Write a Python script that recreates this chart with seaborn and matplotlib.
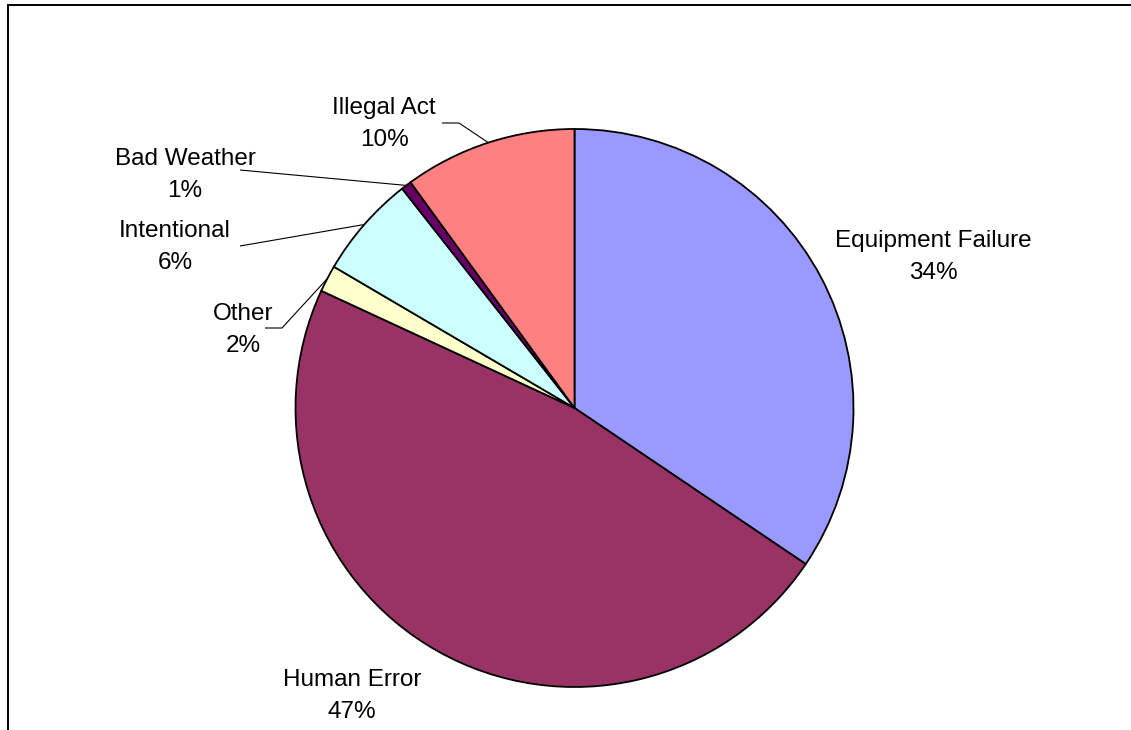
import numpy as np
import matplotlib
matplotlib.use("Agg")
import matplotlib.pyplot as plt
import seaborn as sns

# Causes of incidents (share of total, %)
categories = ["Equipment Failure", "Human Error", "Other", "Intentional", "Bad Weather", "Illegal Act"]
values = [34.45, 47.45, 1.55, 5.95, 0.6, 10.0]
colors = ["#9999FF", "#993366", "#FFFFCC", "#CCFFFF", "#660066", "#FF8080"]

sns.set_theme(style="white")
plt.rcParams["font.family"] = ["Liberation Sans", "DejaVu Sans"]

W, H = 1131, 730
fig = plt.figure(figsize=(W / 100, H / 100), dpi=100)
ax = fig.add_axes([0, 0, 1, 1])

# pie geometry in pixel space (y measured from the bottom)
cx, cy, r = 574.5, H - 408.0, 279.0

wedges, _ = ax.pie(values, colors=colors, startangle=90, counterclock=False,
                   center=(cx, cy), radius=r, frame=True,
                   wedgeprops=dict(edgecolor="black", linewidth=1.3))
ax.set_xlim(0, W)
ax.set_ylim(0, H)
ax.set_aspect("equal")
ax.axis("off")

total = sum(values)
pct = [f"{v / total * 100:.0f}%" for v in values]

def edge_point(i):
    # point on the rim at the middle of wedge i
    w = wedges[i]
    mid = np.deg2rad((w.theta1 + w.theta2) / 2)
    return cx + r * np.cos(mid), cy + r * np.sin(mid)

# label block centres (pixels from top) and leader line starting points
labels = {
    "Equipment Failure": dict(xy=(933, 257), leader=None),
    "Human Error": dict(xy=(352, 696), leader=None),
    "Other": dict(xy=(243, 330), leader=[(265, 328), (282, 328)]),
    "Intentional": dict(xy=(175, 247), leader=[(240, 246)]),
    "Bad Weather": dict(xy=(185, 175), leader=[(240, 170)]),
    "Illegal Act": dict(xy=(384, 124), leader=[(442, 123), (459, 123)]),
}

for i, name in enumerate(categories):
    spec = labels[name]
    x, y = spec["xy"]
    ax.text(x, H - y, f"{name}\n{pct[i]}", ha="center", va="center",
            multialignment="center", fontsize=17.5, color="black",
            linespacing=1.62)
    if spec["leader"]:
        pts = [(px, H - py) for px, py in spec["leader"]] + [edge_point(i)]
        xs, ys = zip(*pts)
        ax.plot(xs, ys, color="black", linewidth=0.8, solid_capstyle="butt")

# chart area border
ax.plot([8, W], [H - 5, H - 5], color="black", linewidth=1.4, solid_capstyle="projecting")
ax.plot([8, 8], [H - 5, 0], color="black", linewidth=1.4, solid_capstyle="projecting")

fig.savefig("out.png", dpi=100)
